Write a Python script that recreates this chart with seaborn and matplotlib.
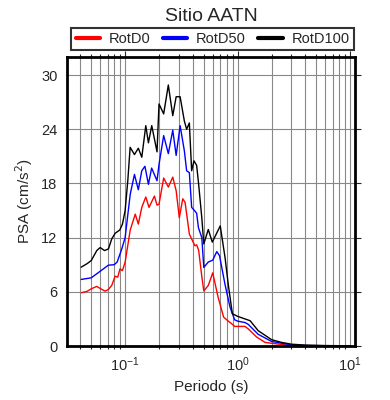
import matplotlib
matplotlib.use("Agg")
import matplotlib.pyplot as plt
import matplotlib.ticker as mticker
import seaborn as sns
import pandas as pd

# periods (s) and spectral accelerations (cm/s^2)
per_rotd0 = [0.0407, 0.0457, 0.05, 0.056, 0.06, 0.0664, 0.071, 0.076, 0.0815, 0.086, 0.09, 0.0947,
             0.1, 0.111, 0.123, 0.131, 0.1406, 0.1526, 0.163, 0.182, 0.192, 0.2, 0.22, 0.242, 0.265,
             0.284, 0.303, 0.325, 0.341, 0.372, 0.39, 0.417, 0.432, 0.45, 0.48, 0.5, 0.548, 0.6,
             0.67, 0.75, 0.825, 0.885, 0.94, 1.16, 1.24, 1.47, 1.75, 2.0, 3.0, 4.0, 6.0, 10.0]
psa_rotd0 = [5.9, 6.04, 6.33, 6.6, 6.37, 6.07, 6.26, 6.7, 7.73, 7.62, 8.54, 8.35,
             9.28, 12.85, 14.6, 13.5, 15.35, 16.5, 15.35, 16.6, 15.6, 15.7, 18.6, 17.6, 18.7,
             17.2, 14.2, 16.3, 15.9, 12.4, 11.85, 11.1, 11.2, 10.6, 7.7, 6.1, 6.7, 8.1,
             5.4, 3.2, 2.75, 2.46, 2.17, 2.17, 1.9, 1.0, 0.4, 0.3, 0.05, 0.03, 0.02, 0.01]

per_rotd50 = [0.0407, 0.05, 0.056, 0.071, 0.08, 0.085, 0.0934, 0.1, 0.111, 0.121, 0.131, 0.1406,
              0.15, 0.161, 0.172, 0.192, 0.2, 0.22, 0.242, 0.265, 0.284, 0.308, 0.336, 0.352,
              0.372, 0.39, 0.41, 0.432, 0.448, 0.48, 0.5, 0.548, 0.6, 0.652, 0.69, 0.772, 0.855,
              0.94, 1.0, 1.16, 1.24, 1.52, 2.0, 3.0, 4.0, 6.0, 10.0]
psa_rotd50 = [7.37, 7.55, 8.0, 8.95, 9.0, 9.3, 10.75, 12.0, 16.8, 19.0, 17.3, 19.4,
              19.9, 17.9, 19.7, 18.3, 20.1, 23.3, 21.3, 23.9, 21.1, 24.4, 21.6, 19.4,
              19.2, 15.35, 15.05, 14.7, 13.1, 12.0, 8.7, 9.3, 9.5, 10.45, 10.0, 6.8, 4.3,
              2.9, 2.75, 2.6, 2.4, 1.3, 0.5, 0.12, 0.06, 0.03, 0.015]

per_rotd100 = [0.0407, 0.0457, 0.05, 0.056, 0.06, 0.0656, 0.0711, 0.076, 0.0815, 0.0897, 0.0947,
               0.1, 0.1056, 0.1108, 0.121, 0.131, 0.1406, 0.1526, 0.161, 0.1724, 0.192, 0.2,
               0.22, 0.242, 0.265, 0.284, 0.308, 0.336, 0.352, 0.372, 0.39, 0.409, 0.432, 0.45,
               0.48, 0.5, 0.548, 0.595, 0.7, 0.772, 0.825, 0.897, 1.0, 1.16, 1.29, 1.52, 2.0,
               2.45, 3.0, 4.0, 6.0, 10.0]
psa_rotd100 = [8.73, 9.1, 9.46, 10.57, 10.9, 10.57, 10.75, 11.85, 12.48, 12.85, 13.5,
               15.0, 18.3, 22.0, 21.2, 21.9, 20.9, 24.4, 22.5, 24.4, 21.5, 26.8,
               25.7, 28.9, 25.5, 27.6, 27.6, 24.9, 24.0, 24.7, 19.4, 20.5, 20.0, 17.9,
               14.2, 11.3, 12.9, 11.5, 13.3, 9.8, 6.8, 3.57, 3.28, 3.0, 2.8, 1.7, 0.7,
               0.4, 0.2, 0.1, 0.05, 0.02]

series_names = ["RotD0", "RotD50", "RotD100"]
series_colors = ["red", "blue", "black"]

df = pd.concat([
    pd.DataFrame({"periodo": per_rotd0, "psa": psa_rotd0, "serie": "RotD0"}),
    pd.DataFrame({"periodo": per_rotd50, "psa": psa_rotd50, "serie": "RotD50"}),
    pd.DataFrame({"periodo": per_rotd100, "psa": psa_rotd100, "serie": "RotD100"}),
], ignore_index=True)

sns.set_style("white")
plt.rcParams["font.family"] = ["Liberation Sans", "DejaVu Sans"]

fig = plt.figure(figsize=(3.9, 4.0), dpi=100)
ax = fig.add_axes([0.172, 0.135, 0.738, 0.7225])

sns.lineplot(data=df, x="periodo", y="psa", hue="serie", hue_order=series_names,
             palette=dict(zip(series_names, series_colors)), estimator=None, sort=False,
             linewidth=1.0, ax=ax, legend=False)

ax.set_xscale("log")
ax.set_xlim(0.0305, 11.0)
ax.set_ylim(0, 32)
ax.set_yticks([0, 6, 12, 18, 24, 30])
ax.xaxis.set_major_locator(mticker.LogLocator(base=10))
ax.xaxis.set_minor_locator(mticker.LogLocator(base=10, subs=range(2, 10)))
ax.xaxis.set_minor_formatter(mticker.NullFormatter())

ax.grid(True, which="major", axis="both", color="#888888", linewidth=0.8)
ax.grid(True, which="minor", axis="x", color="#888888", linewidth=0.8)

for side in ax.spines.values():
    side.set_linewidth(2.0)
    side.set_color("black")

ax.tick_params(axis="both", which="major", direction="out", length=4, width=0.8,
               labelsize=10.5, top=True, right=True, pad=3)
ax.tick_params(axis="x", which="minor", direction="out", length=2.5, width=0.8,
               top=True, bottom=True)

ax.set_xlabel("Periodo (s)", fontsize=11)
ax.set_ylabel("PSA (cm/s$^2$)", fontsize=11)
ax.set_title("Sitio AATN", fontsize=14, pad=26)

handles = [plt.Line2D([], [], color=c, linewidth=3) for c in series_colors]
leg = fig.legend(handles, series_names, loc="center", ncol=3,
                 bbox_to_anchor=(0.545, 0.9025), frameon=True, fancybox=False,
                 fontsize=10.5, handlelength=1.7, columnspacing=0.8, handletextpad=0.6,
                 borderpad=0.3, borderaxespad=0)
leg.get_frame().set_edgecolor("black")
leg.get_frame().set_linewidth(1.5)

fig.savefig("out.png", dpi=100)
